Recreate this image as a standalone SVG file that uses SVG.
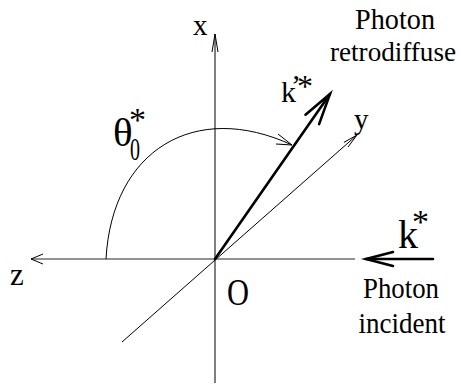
<svg xmlns="http://www.w3.org/2000/svg" width="460" height="385" viewBox="0 0 460 385">
<style>
text{font-family:"Liberation Serif","Times New Roman",serif;fill:#000}
.thin{stroke:#000;stroke-width:1;fill:none}
.grey{stroke:#6e6e6e;stroke-width:1.5;fill:none}
.thick{stroke:#000;stroke-width:2.6;fill:none;stroke-linecap:round}
.lbl{font-size:30px;text-anchor:middle}
</style>
<rect width="460" height="385" fill="#fff"/>
<g id="connectors">
<g id="axis-x"><line class="thin" x1="215" y1="383" x2="215" y2="34"/><polyline class="thin" points="212,52 215,34 218,52"/></g>
<g id="axis-z"><line class="grey" x1="355" y1="259" x2="31" y2="259"/><polyline class="thin" points="43,254 31,259 43,264"/></g>
<g id="axis-y"><line class="thin" x1="122" y1="342" x2="357" y2="135"/><polyline class="thin" points="343.9,142.4 357,135 348,147"/></g>
<g id="k-prime"><line class="thick" x1="215" y1="259" x2="330" y2="94"/><polyline class="thick" points="305.5,114.7 330,94 319.1,124.1"/></g>
<g id="k-incident"><line class="thick" x1="433" y1="259" x2="366" y2="259"/><polyline class="thick" points="393,252 366,259 393,266"/></g>
<g id="theta-arc"><path class="thin" d="M106,259 C112,150 195,100 292,145"/><polyline class="thin" points="278,134 292,145 276,144"/></g>
</g>
<g id="label-x"><text x="193" y="35" font-size="29">x</text></g>
<g id="label-y"><text x="354" y="129" font-size="29">y</text></g>
<g id="label-z"><text x="10" y="285" font-size="31">z</text></g>
<g id="label-O"><text x="227" y="305" font-size="37" textLength="22" lengthAdjust="spacingAndGlyphs">O</text></g>
<g id="label-theta">
<text font-size="41"><tspan x="113" y="146">θ</tspan><tspan x="129" y="131" font-size="34">*</tspan><tspan x="130" y="160" font-size="31" textLength="10" lengthAdjust="spacingAndGlyphs">0</tspan></text>
</g>
<g id="label-kprime">
<text font-size="30"><tspan x="281" y="102">k</tspan><tspan x="291" y="95">’</tspan><tspan x="297" y="97" font-size="32">*</tspan></text>
</g>
<g id="label-k">
<text font-size="40"><tspan x="398" y="248">k</tspan><tspan x="412" y="233" font-size="34">*</tspan></text>
</g>
<g id="label-retro">
<text class="lbl" x="395" y="29" textLength="80" lengthAdjust="spacingAndGlyphs">Photon</text>
<text class="lbl" x="393" y="61" font-size="28" style="font-size:28px" textLength="126" lengthAdjust="spacingAndGlyphs">retrodiffuse</text>
</g>
<g id="label-incident">
<text class="lbl" x="401" y="298" textLength="76" lengthAdjust="spacingAndGlyphs">Photon</text>
<text class="lbl" x="402" y="333" textLength="87" lengthAdjust="spacingAndGlyphs">incident</text>
</g>
</svg>
